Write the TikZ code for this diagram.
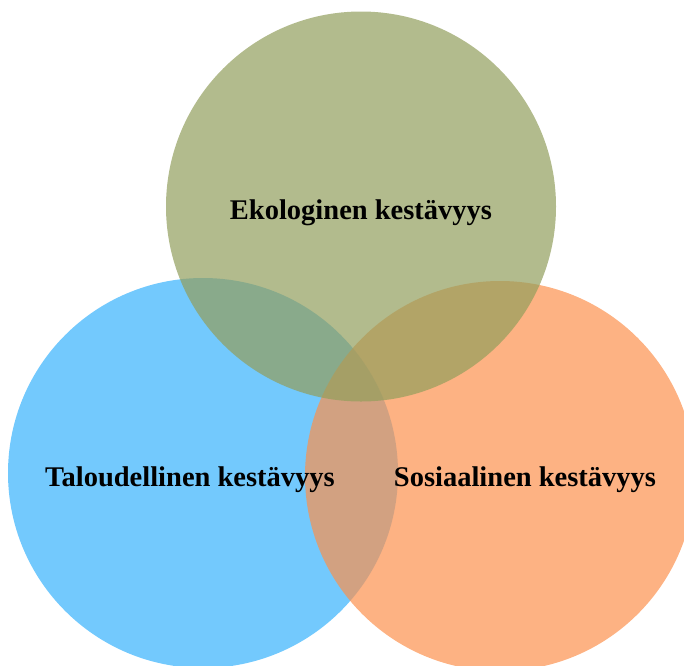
\documentclass[tikz,border=0pt]{standalone}
\usepackage{fontspec}
\setmainfont{Liberation Serif}
\usetikzlibrary{positioning}

\definecolor{talousblue}{RGB}{55,178,252}
\definecolor{sosiaaliorange}{RGB}{252,145,78}
\definecolor{ekoolive}{RGB}{146,158,92}

\tikzset{
    pillar/.style={circle, draw=none, fill opacity=0.7, minimum size=390pt, inner sep=0pt},
    pillarlabel/.style={font=\fontsize{28.5}{30}\selectfont\bfseries, text=black, inner sep=0pt}
}

\begin{document}
\begin{tikzpicture}[x=1pt, y=-1pt]

    % page frame
    \useasboundingbox (0,0) rectangle (684,665);

    % three overlapping circles
    \node[pillar, fill=talousblue] (talous) at (203,473) {};
    \node[pillar, fill=sosiaaliorange] (sosiaali) at (500,476) {};
    \node[pillar, fill=ekoolive] (ekologia) at (361,206.5) {};

    % labels
    \node[pillarlabel] (ekolabel) at (361,213) {Ekologinen kestävyys};
    \node[pillarlabel] (talouslabel) at (190,480) {Taloudellinen kestävyys};
    \node[pillarlabel] (sosiaalilabel) at (525,480) {Sosiaalinen kestävyys};

\end{tikzpicture}
\end{document}
